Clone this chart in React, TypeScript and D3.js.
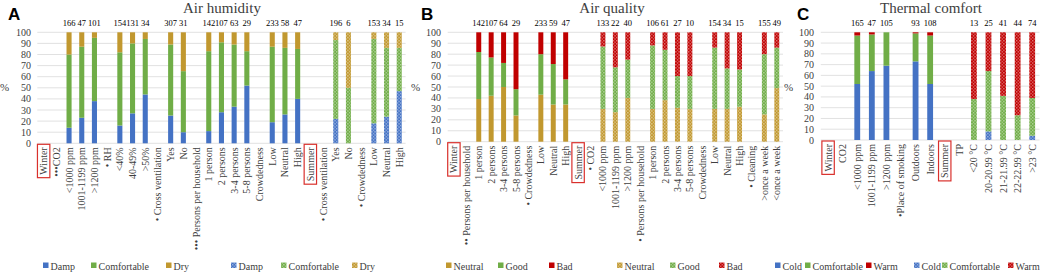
import React, { useEffect, useRef } from "react";
import * as d3 from "d3";

// ---------- Panel A: Air humidity ----------
const humidityCategories = [
  "Winter", "•••CO2", "<1000 ppm", "1001-1199 ppm", ">1200 ppm", "• RH", "<40%", "40-49%", ">50%",
  "• Cross ventilation", "Yes", "No", "••• Persons per household", "1 person", "2 persons", "3-4 persons",
  "5-8 persons", "Crowdedness", "Low", "Neutral", "High", "Summer", "• Cross ventilation", "Yes", "No",
  "• Crowdedness", "Low", "Neutral", "High",
];
const humidityDamp = [null, null, 14, 23, 38, null, 16, 27, 44, null, 25, 10, null, 11, 28, 33, 52, null, 19, 26, 40, null, null, 22, 0, null, 18, 24, 47];
const humidityComfortable = [null, null, 66, 64, 57, null, 66, 63, 50, null, 64, 55, null, 72, 63, 56, 31, null, 68, 60, 45, null, null, 71, 50, null, 76, 62, 39];
const humidityDry = [null, null, 20, 13, 5, null, 18, 10, 6, null, 11, 35, null, 17, 9, 11, 17, null, 13, 14, 15, null, null, 7, 50, null, 6, 14, 14];
const humidityN = ["", "", "166", "47", "101", "", "154", "131", "34", "", "307", "31", "", "142", "107", "63", "29", "", "233", "58", "47", "", "", "196", "6", "", "153", "34", "15"];

// ---------- Panel B: Air quality ----------
const qualityCategories = [
  "Winter", "•• Persons per household", "1 person", "2 persons", "3-4 persons", "5-8 persons", "• Crowdedness",
  "Low", "Neutral", "High", "Summer", "• CO2", "<1000 ppm", "1001-1199 ppm", ">1200 ppm", "• Persons per household",
  "1 person", "2 persons", "3-4 persons", "5-8 persons", "Crowdedness", "Low", "Neutral", "High", "• Cleaning",
  ">once a week", "<once a week",
];
const qualityNeutral = [null, null, 39, 42, 50, 24, null, 43, 34, 34, null, null, 30, 27, 40, null, 30, 38, 31, 30, null, 30, 30, 32, null, 25, 49];
const qualityGood = [null, null, 43, 35, 22, 24, null, 37, 37, 23, null, null, 57, 41, 35, null, 58, 46, 29, 30, null, 56, 37, 34, null, 55, 37];
const qualityBad = [null, null, 18, 23, 28, 52, null, 20, 29, 43, null, null, 13, 32, 25, null, 12, 16, 40, 40, null, 14, 33, 34, null, 20, 14];
const qualityN = ["", "", "142", "107", "64", "29", "", "233", "59", "47", "", "", "133", "22", "40", "", "106", "61", "27", "10", "", "154", "34", "15", "", "155", "49"];

// ---------- Panel C: Thermal comfort ----------
const thermalCategories = [
  "Winter", "CO2", "<1000 ppm", "1001-1199 ppm", ">1200 ppm", "•Place of smoking", "Outdoors", "Indoors",
  "Summer", "TP", "<20 °C", "20-20.99 °C", "21-21.99 °C", "22-22.99 °C", ">23 °C",
];
const thermalCold = [null, null, 52, 64, 69, null, 73, 52, null, null, 0, 8, 0, 0, 4];
const thermalComfortable = [null, null, 45, 34, 31, null, 26, 45, null, null, 38, 56, 41, 23, 35];
const thermalWarm = [null, null, 3, 2, 0, null, 1, 3, null, null, 62, 36, 59, 77, 61];
const thermalN = ["", "", "165", "47", "105", "", "93", "108", "", "", "13", "25", "41", "44", "74"];

const yTicks = [0, 10, 20, 30, 40, 50, 60, 70, 80, 90, 100];

const BLUE = "#4472C4";
const GREEN = "#70AD47";
const GOLD = "#C1982F";
const RED = "#C00000";

type Series = { name: string; values: (number | null)[]; color: string; key: string };

const panels = [
  {
    letter: "A", letterX: 8, title: "Air humidity", titleX: 222, pctX: 0, tickX: 31,
    x0: 37.3, x1: 405.6, yBottom: 143.3, categories: humidityCategories, n: humidityN,
    series: [
      { name: "Damp", values: humidityDamp, color: BLUE, key: "blue" },
      { name: "Comfortable", values: humidityComfortable, color: GREEN, key: "green" },
      { name: "Dry", values: humidityDry, color: GOLD, key: "gold" },
    ] as Series[],
    legendXs: [43, 91, 166, 231, 281, 352],
  },
  {
    letter: "B", letterX: 421, title: "Air quality", titleX: 612, pctX: 411, tickX: 441,
    x0: 447.7, x1: 783, yBottom: 141.7, categories: qualityCategories, n: qualityN,
    series: [
      { name: "Neutral", values: qualityNeutral, color: GOLD, key: "gold" },
      { name: "Good", values: qualityGood, color: GREEN, key: "green" },
      { name: "Bad", values: qualityBad, color: RED, key: "red" },
    ] as Series[],
    legendXs: [446, 498, 549, 617, 670, 719],
  },
  {
    letter: "C", letterX: 797, title: "Thermal comfort", titleX: 931, pctX: 784, tickX: 814,
    x0: 820.8, x1: 1039.5, yBottom: 140, categories: thermalCategories, n: thermalN,
    series: [
      { name: "Cold", values: thermalCold, color: BLUE, key: "blue" },
      { name: "Comfortable", values: thermalComfortable, color: GREEN, key: "green" },
      { name: "Warm", values: thermalWarm, color: RED, key: "red" },
    ] as Series[],
    legendXs: [775, 805, 866, 914, 942, 1008],
  },
];

const SERIF = "'Liberation Serif', 'Times New Roman', serif";
const SANS = "'Liberation Sans', Arial, sans-serif";

export default function App() {
  const ref = useRef<SVGSVGElement | null>(null);

  useEffect(() => {
    const svg = d3.select(ref.current);
    svg.selectAll("*").remove();

    const defs = svg.append("defs");
    const colorMap: Record<string, string> = { blue: BLUE, green: GREEN, gold: GOLD, red: RED };
    Object.entries(colorMap).forEach(([k, c]) => {
      const p = defs.append("pattern").attr("id", `pat-${k}`).attr("patternUnits", "userSpaceOnUse")
        .attr("width", 3.2).attr("height", 3.2);
      p.append("rect").attr("width", 3.2).attr("height", 3.2).attr("fill", c);
      p.append("rect").attr("x", 0.2).attr("y", 0.2).attr("width", 1).attr("height", 1).attr("fill", "#fff").attr("opacity", 0.85);
      p.append("rect").attr("x", 1.8).attr("y", 1.8).attr("width", 1).attr("height", 1).attr("fill", "#fff").attr("opacity", 0.85);
    });

    const yTop = 32.3;
    const legendY = 266;

    panels.forEach((P) => {
      const g = svg.append("g");
      const idx = P.categories.map((_, i) => i);
      const x = d3.scaleBand<number>().domain(idx).range([P.x0, P.x1]).paddingInner(0).paddingOuter(0);
      const y = d3.scaleLinear().domain([0, 100]).range([P.yBottom, yTop]);
      const bw = x.bandwidth();
      const barW = bw * 0.4;
      const summerIndex = P.categories.indexOf("Summer");

      // gridlines
      g.selectAll("line.grid").data(yTicks).enter().append("line")
        .attr("x1", P.x0).attr("x2", P.x1)
        .attr("y1", (d) => y(d)).attr("y2", (d) => y(d))
        .attr("stroke", "#D9D9D9").attr("stroke-width", 0.8);

      // y tick labels
      g.selectAll("text.ytick").data(yTicks).enter().append("text")
        .attr("x", P.tickX).attr("y", (d) => y(d)).attr("dy", "0.35em")
        .attr("text-anchor", "end").attr("font-family", SERIF).attr("font-size", 10).attr("fill", "#404040")
        .text((d) => String(d));

      // % label
      g.append("text").attr("x", P.pctX).attr("y", 91).attr("font-family", SERIF).attr("font-size", 11)
        .attr("fill", "#404040").text("%");

      // panel letter & title
      g.append("text").attr("x", P.letterX).attr("y", 19.5).attr("font-family", SANS).attr("font-weight", "bold")
        .attr("font-size", 17).attr("fill", "#000").text(P.letter);
      g.append("text").attr("x", P.titleX).attr("y", 13).attr("text-anchor", "middle").attr("font-family", SERIF)
        .attr("font-size", 15).attr("fill", "#404040").text(P.title);

      // stacked bars
      const stackData = idx.map((i) => {
        const o: Record<string, number> = { i };
        P.series.forEach((s, si) => { o["s" + si] = s.values[i] ?? 0; });
        return o;
      });
      const stack = d3.stack<Record<string, number>>().keys(P.series.map((_, si) => "s" + si));
      const layers = stack(stackData);
      layers.forEach((layer, si) => {
        const s = P.series[si];
        g.selectAll(`rect.l${si}`).data(layer.filter((d) => (d[1] - d[0]) > 0)).enter().append("rect")
          .attr("x", (d) => (x(d.data.i) as number) + (bw - barW) / 2)
          .attr("width", barW)
          .attr("y", (d) => y(d[1]))
          .attr("height", (d) => y(d[0]) - y(d[1]))
          .attr("fill", (d) => (summerIndex >= 0 && d.data.i > summerIndex ? `url(#pat-${s.key})` : s.color));
      });

      // n labels
      g.selectAll("text.n").data(idx.filter((i) => P.n[i] !== "")).enter().append("text")
        .attr("x", (i) => (x(i) as number) + bw / 2).attr("y", 26)
        .attr("text-anchor", "middle").attr("font-family", SERIF).attr("font-size", 8.5).attr("fill", "#000")
        .text((i) => P.n[i]);

      // x category labels
      idx.forEach((i) => {
        const cx = (x(i) as number) + bw / 2;
        const t = g.append("text")
          .attr("transform", `translate(${cx},${P.yBottom + 4}) rotate(-90)`)
          .attr("dy", "0.35em").attr("text-anchor", "end").attr("font-family", SERIF).attr("font-size", 10)
          .attr("fill", "#404040").text(P.categories[i]);
        if (P.categories[i] === "Winter" || P.categories[i] === "Summer") {
          const len = (t.node() as SVGTextElement).getComputedTextLength();
          g.append("rect").attr("x", cx - 6.2).attr("y", P.yBottom + 1).attr("width", 12.4).attr("height", len + 6)
            .attr("fill", "none").attr("stroke", "#D9302C").attr("stroke-width", 1.2);
        }
      });

      // legend
      const legendItems = [
        ...P.series.map((s) => ({ name: s.name, fill: s.color })),
        ...P.series.map((s) => ({ name: s.name, fill: `url(#pat-${s.key})` })),
      ];
      legendItems.forEach((it, k) => {
        const lx = P.legendXs[k];
        g.append("rect").attr("x", lx).attr("y", legendY - 3.5).attr("width", 5.5).attr("height", 5.5).attr("fill", it.fill);
        g.append("text").attr("x", lx + 7.5).attr("y", legendY).attr("dy", "0.35em").attr("font-family", SERIF)
          .attr("font-size", 10).attr("fill", "#404040").text(it.name);
      });
    });
  }, []);

  return (
    <svg ref={ref} width={1040} height={273}
      style={{ position: "absolute", left: 0, top: 0, background: "#fff", display: "block" }} />
  );
}
